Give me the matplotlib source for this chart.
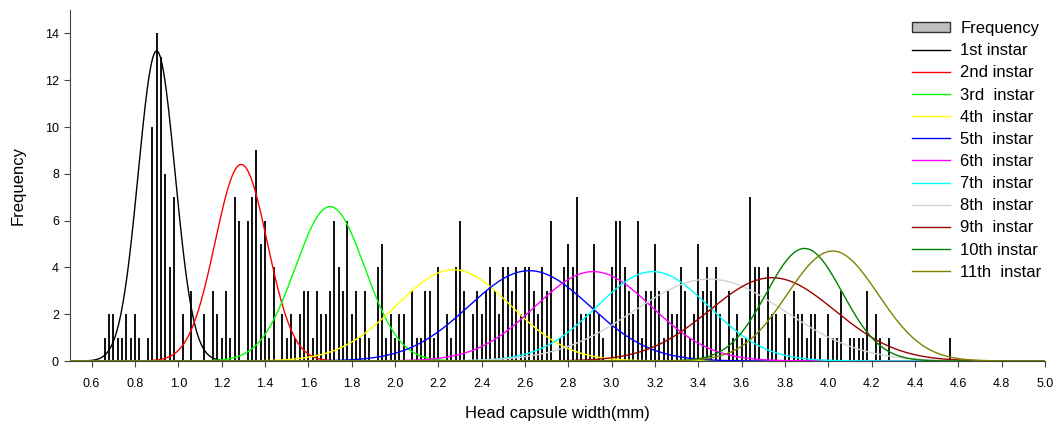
import numpy as np
import matplotlib
matplotlib.use("Agg")
import matplotlib.pyplot as plt
from matplotlib.patches import Patch
from matplotlib.lines import Line2D

plt.rcParams['font.family'] = ['Liberation Sans', 'DejaVu Sans']

# Histogram data (head capsule width in mm, frequency)
widths = [0.66, 0.68, 0.70, 0.72, 0.74, 0.76, 0.78, 0.80, 0.82, 0.86, 0.88, 0.90, 0.92, 0.94,
          0.96, 0.98, 1.02, 1.06, 1.12, 1.16, 1.18, 1.20, 1.22, 1.24, 1.26, 1.28, 1.32, 1.34,
          1.36, 1.38, 1.40, 1.42, 1.44, 1.48, 1.50, 1.52, 1.54, 1.56, 1.58, 1.60, 1.62, 1.64,
          1.66, 1.68, 1.70, 1.72, 1.74, 1.76, 1.78, 1.80, 1.82, 1.84, 1.86, 1.88, 1.92, 1.94,
          1.96, 1.98, 2.00, 2.02, 2.04, 2.08, 2.10, 2.12, 2.14, 2.16, 2.18, 2.20, 2.24, 2.26,
          2.28, 2.30, 2.32, 2.36, 2.38, 2.40, 2.42, 2.44, 2.46, 2.48, 2.50, 2.52, 2.54, 2.56,
          2.58, 2.60, 2.62, 2.64, 2.66, 2.68, 2.70, 2.72, 2.76, 2.78, 2.80, 2.82, 2.84, 2.86,
          2.88, 2.90, 2.92, 2.94, 2.96, 3.00, 3.02, 3.04, 3.06, 3.08, 3.10, 3.12, 3.14, 3.16,
          3.18, 3.20, 3.22, 3.24, 3.26, 3.28, 3.30, 3.32, 3.34, 3.36, 3.38, 3.40, 3.42, 3.44,
          3.46, 3.48, 3.50, 3.54, 3.56, 3.58, 3.60, 3.62, 3.64, 3.66, 3.68, 3.72, 3.74, 3.76,
          3.80, 3.82, 3.84, 3.86, 3.88, 3.90, 3.92, 3.94, 3.96, 4.00, 4.02, 4.04, 4.06, 4.10,
          4.12, 4.14, 4.16, 4.18, 4.22, 4.24, 4.28, 4.56]
counts = [1, 2, 2, 1, 1, 2, 1, 2, 1, 1, 10, 14, 13, 8,
          4, 7, 2, 3, 2, 3, 2, 1, 3, 1, 7, 6, 6, 7,
          9, 5, 6, 1, 4, 2, 1, 2, 1, 2, 3, 3, 1, 3,
          2, 2, 3, 6, 4, 3, 6, 2, 3, 1, 3, 1, 4, 5,
          1, 2, 1, 2, 2, 3, 1, 1, 3, 3, 1, 4, 2, 1,
          4, 6, 3, 2, 3, 2, 3, 4, 3, 2, 4, 4, 3, 4,
          2, 4, 4, 3, 2, 4, 3, 6, 1, 4, 5, 4, 7, 2,
          2, 2, 5, 2, 1, 4, 6, 6, 4, 3, 2, 6, 1, 3,
          3, 5, 3, 1, 3, 2, 2, 4, 3, 1, 2, 5, 3, 4,
          3, 4, 2, 3, 1, 2, 1, 1, 7, 4, 4, 4, 2, 2,
          2, 1, 3, 2, 2, 1, 2, 2, 1, 2, 1, 1, 3, 1,
          1, 1, 1, 3, 2, 1, 1, 1]

# Fitted normal curves per instar: mean, sd, peak height
instar_labels = ["1st instar", "2nd instar", "3rd  instar", "4th  instar", "5th  instar",
                 "6th  instar", "7th  instar", "8th  instar", "9th  instar", "10th instar",
                 "11th  instar"]
instar_means = [0.90, 1.29, 1.70, 2.27, 2.62, 2.915, 3.19, 3.45, 3.74, 3.89, 4.02]
instar_sds = [0.085, 0.12, 0.16, 0.265, 0.28, 0.27, 0.26, 0.35, 0.29, 0.175, 0.21]
instar_peaks = [13.25, 8.4, 6.6, 3.9, 3.86, 3.82, 3.82, 3.5, 3.56, 4.81, 4.7]
instar_colors = ["#000000", "#ff0000", "#00ff00", "#ffff00", "#0000ff", "#ff00ff",
                 "#00ffff", "#d3d3d3", "#990000", "#008000", "#808000"]

x_ticks = [round(0.6 + 0.2 * i, 1) for i in range(23)]
y_ticks = [0, 2, 4, 6, 8, 10, 12, 14]

fig = plt.figure(figsize=(10.61, 4.32), dpi=100)
ax = fig.add_axes([70 / 1061, 1 - 361 / 432, (1045 - 70) / 1061, (361 - 10) / 432])

ax.bar(widths, counts, width=0.008, color="#151515", edgecolor="none",
       linewidth=0, zorder=2)

xs = np.linspace(0.5, 5.0, 2000)
for i, (m, s, p, c, lab) in enumerate(zip(instar_means, instar_sds, instar_peaks,
                                          instar_colors, instar_labels)):
    ys = p * np.exp(-0.5 * ((xs - m) / s) ** 2)
    ax.plot(xs, ys, color=c, lw=1.0, zorder=3 + i, label=lab)

ax.set_xlim(0.5, 5.0)
ax.set_ylim(0, 15)
ax.set_xticks(x_ticks)
ax.set_xticklabels([f"{t:.1f}" for t in x_ticks])
ax.set_yticks(y_ticks)
ax.set_yticklabels([str(t) for t in y_ticks])

for sp in ["top", "right"]:
    ax.spines[sp].set_visible(False)
ax.spines["left"].set_color("#444444")
ax.spines["bottom"].set_color("#444444")
ax.tick_params(axis="x", direction="out", length=4, width=0.8, pad=8, labelsize=9,
               color="#444444")
ax.tick_params(axis="y", direction="out", length=4, width=0.8, pad=4, labelsize=9,
               color="#444444")

ax.set_xlabel("Head capsule width(mm)", fontsize=12, labelpad=12)
ax.set_ylabel("Frequency", fontsize=12, labelpad=14)

freq_patch = Patch(facecolor="#bfbfbf", edgecolor="#333333", linewidth=1.0, label="Frequency")
leg_lines = [Line2D([0], [0], color=c, lw=1.0) for c in instar_colors]
fig.legend([freq_patch] + leg_lines, ["Frequency"] + instar_labels,
           loc="upper left", bbox_to_anchor=(912 / 1061, 1 - 21 / 432),
           frameon=False, fontsize=12, borderpad=0, borderaxespad=0,
           handlelength=2.3, handletextpad=0.6, labelspacing=0.43, handleheight=0.6)

fig.savefig("out.png", dpi=100)
